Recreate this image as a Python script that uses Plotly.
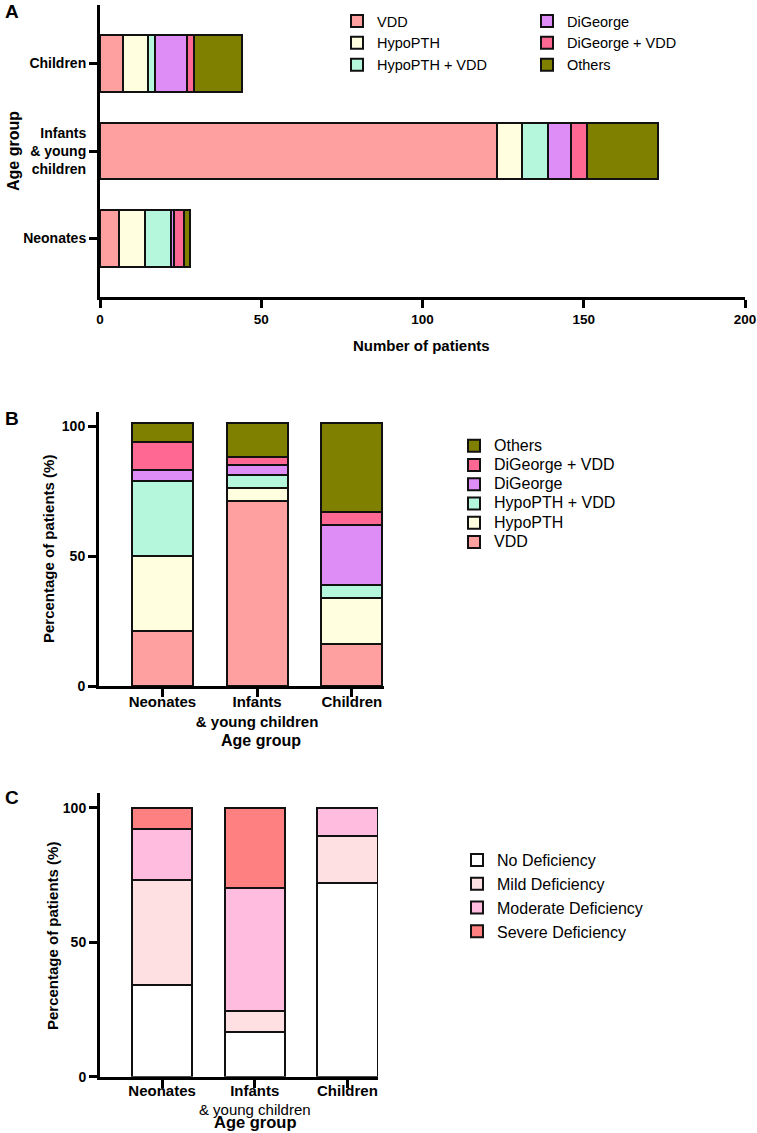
import plotly.graph_objects as go

W, H = 757, 1133

# ---------------- data ----------------
groups = ["Neonates", "Infants & young children", "Children"]
group_ticks_A = ["<b>Neonates</b>", "<b>Infants<br>& young<br>children</b>", "<b>Children</b>"]
group_ticks_B = ["<b>Neonates</b>", "<b>Infants<br>& young children</b>", "<b>Children</b>"]
group_ticks_C = ["<b>Neonates</b>", "<b>Infants</b><br>& young children", "<b>Children</b>"]

diag_names = ["VDD", "HypoPTH", "HypoPTH + VDD", "DiGeorge", "DiGeorge + VDD", "Others"]
diag_colors = ["#FFA0A0", "#FFFFE0", "#B4F7DC", "#DE8CF6", "#FF6892", "#808000"]

# Panel A: number of patients (Neonates, Infants & young children, Children)
count_vdd = [6, 123, 7]
count_hypopth = [8, 8, 8]
count_hypopth_vdd = [8, 8, 2]
count_digeorge = [1, 7, 10]
count_digeorge_vdd = [3, 5, 2]
count_others = [2, 22, 15]
counts = [count_vdd, count_hypopth, count_hypopth_vdd, count_digeorge, count_digeorge_vdd, count_others]

# Panel B: percentage of patients
pct_vdd = [21, 71, 16]
pct_hypopth = [29, 5, 18]
pct_hypopth_vdd = [29, 5, 5]
pct_digeorge = [4, 4, 23]
pct_digeorge_vdd = [11, 3, 5]
pct_others = [7, 13, 34]
pcts = [pct_vdd, pct_hypopth, pct_hypopth_vdd, pct_digeorge, pct_digeorge_vdd, pct_others]

# Panel C: vitamin D status
def_names = ["No Deficiency", "Mild Deficiency", "Moderate Deficiency", "Severe Deficiency"]
def_colors = ["#FFFFFF", "#FFE0E2", "#FFBCDE", "#FF8080"]
def_none = [34, 16.5, 72]
def_mild = [39, 8, 17.5]
def_moderate = [19, 45.5, 10.5]
def_severe = [8, 30, 0]
defs = [def_none, def_mild, def_moderate, def_severe]

x_ticks_A = [0, 50, 100, 150, 200]
y_ticks_pct = [0, 50, 100]

FONT = "Arial, Liberation Sans, sans-serif"
fig = go.Figure()

# Panel A (horizontal stacked)
for i, (name, vals, col) in enumerate(zip(diag_names, counts, diag_colors)):
    fig.add_trace(go.Bar(
        y=groups, x=vals, name=name, orientation="h",
        marker=dict(color=col, line=dict(color="#111", width=2)),
        width=0.65, xaxis="x", yaxis="y",
        legend="legend" if i < 3 else "legend4",
        legendgroup="A%d" % i, showlegend=True,
    ))

# Panel B
for i, (name, vals, col) in enumerate(zip(diag_names, pcts, diag_colors)):
    fig.add_trace(go.Bar(
        x=groups, y=vals, name='<span style="font-size:16px">%s</span>' % name,
        marker=dict(color=col, line=dict(color="#111", width=2)),
        width=0.645, xaxis="x2", yaxis="y2", legend="legend2",
        showlegend=True,
    ))

# Panel C
for i, (name, vals, col) in enumerate(zip(def_names, defs, def_colors)):
    fig.add_trace(go.Bar(
        x=groups, y=vals, name=name,
        marker=dict(color=col, line=dict(color="#111", width=2)),
        width=0.65, xaxis="x3", yaxis="y3", legend="legend3",
        showlegend=True,
    ))

def px_x(p):
    return p / W

def px_y(p):
    return 1 - p / H

def axis_style(size, standoff=0):
    return dict(showline=True, linecolor="black", linewidth=3, ticks="outside",
                tickwidth=3, tickcolor="black", ticklen=8, showgrid=False, zeroline=False,
                automargin=False, tickangle=0, ticklabelstandoff=standoff,
                tickfont=dict(family=FONT, size=size, color="black"))

layout = dict(
    width=W, height=H, margin=dict(l=0, r=0, t=0, b=0),
    paper_bgcolor="white", plot_bgcolor="white", barmode="stack",
    font=dict(family=FONT, color="black"),
    xaxis=dict(domain=[px_x(100), px_x(745)], range=[0, 200], anchor="y",
               tickvals=x_ticks_A, ticktext=["<b>%d</b>" % v for v in x_ticks_A], **axis_style(13.5)),
    yaxis=dict(domain=[px_y(297), px_y(5)], range=[-0.67, 2.67], anchor="x",
               type="category", categoryorder="array", categoryarray=groups,
               tickvals=groups, ticktext=group_ticks_A, **axis_style(14)),
    xaxis2=dict(domain=[px_x(99), px_x(384)], range=[-0.67, 2.34], anchor="y2",
                type="category", categoryorder="array", categoryarray=groups,
                tickvals=groups, ticktext=group_ticks_B, **axis_style(15, -8)),
    yaxis2=dict(domain=[px_y(686), px_y(411.7)], range=[0, 105.5], anchor="x2",
                tickvals=y_ticks_pct, ticktext=["<b>%d</b>" % v for v in y_ticks_pct], **axis_style(14)),
    xaxis3=dict(domain=[px_x(100), px_x(378)], range=[-0.67, 2.33], anchor="y3",
                type="category", categoryorder="array", categoryarray=groups,
                tickvals=groups, ticktext=group_ticks_C, **axis_style(15, -10)),
    yaxis3=dict(domain=[px_y(1076.7), px_y(793)], range=[0, 105.5], anchor="x3",
                tickvals=y_ticks_pct, ticktext=["<b>%d</b>" % v for v in y_ticks_pct], **axis_style(14)),
    legend=dict(x=px_x(337), y=px_y(5), xanchor="left", yanchor="top", traceorder="normal",
                font=dict(family=FONT, size=14.5), tracegroupgap=1, bgcolor="rgba(0,0,0,0)"),
    legend4=dict(x=px_x(527), y=px_y(5), xanchor="left", yanchor="top", traceorder="normal",
                 font=dict(family=FONT, size=14.5), tracegroupgap=1, bgcolor="rgba(0,0,0,0)"),
    legend2=dict(x=px_x(454), y=px_y(431), xanchor="left", yanchor="top",
                 font=dict(family=FONT, size=12.5), traceorder="reversed", bgcolor="rgba(0,0,0,0)"),
    legend3=dict(x=px_x(457), y=px_y(843), xanchor="left", yanchor="top", traceorder="normal",
                 font=dict(family=FONT, size=16), bgcolor="rgba(0,0,0,0)"),
)
fig.update_layout(**layout)

def ann(text, x, y, size, angle=0, bold=True):
    fig.add_annotation(text=("<b>%s</b>" % text) if bold else text,
                       x=px_x(x), y=px_y(y), xref="paper", yref="paper",
                       showarrow=False, textangle=angle, xanchor="center", yanchor="middle",
                       font=dict(family=FONT, size=size, color="black"))

ann("A", 12, 12, 19)
ann("B", 12, 418, 19)
ann("C", 12, 797, 19)
ann("Number of patients", 422, 345, 15)
ann("Age group", 14, 151, 16, angle=-90)
ann("Percentage of patients (%)", 48, 549, 15, angle=-90)
ann("Age group", 261, 740, 16)
ann("Percentage of patients (%)", 52, 936, 15, angle=-90)
ann("Age group", 255, 1122, 16.5)

fig.write_html("out.html")
